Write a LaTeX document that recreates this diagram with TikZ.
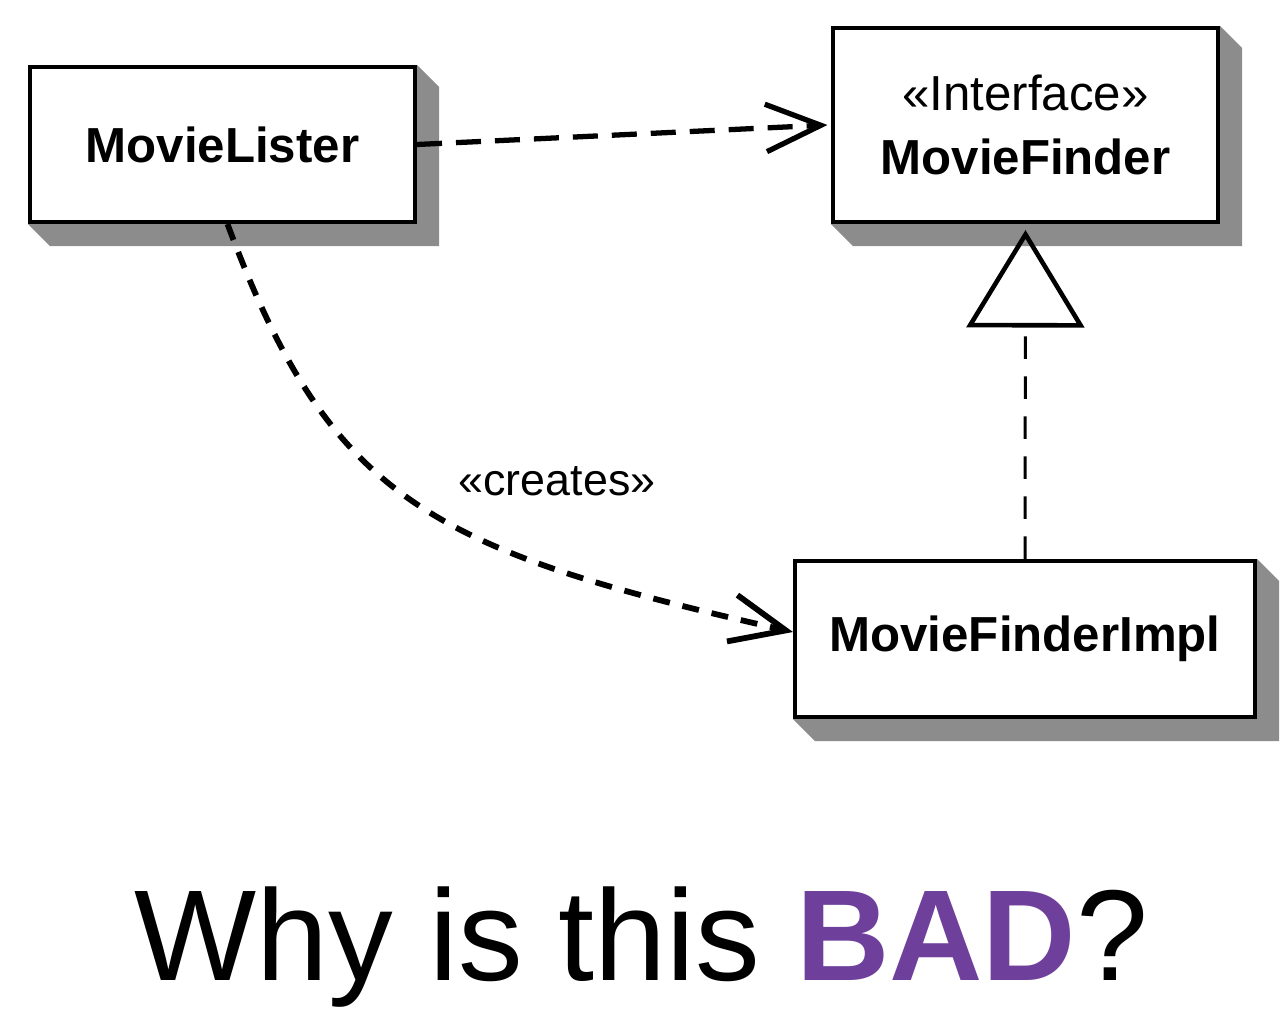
\documentclass[tikz,border=0pt]{standalone}
\usepackage{fontspec}
\setmainfont{Liberation Sans}
\usetikzlibrary{arrows.meta,positioning}
\definecolor{badpurple}{RGB}{110,64,155}
\definecolor{shadowgray}{RGB}{140,140,140}

\begin{document}
\begin{tikzpicture}[
    classbox/.style={draw,fill=white,line width=2.3pt,inner sep=0pt,align=center,font=\fontsize{28}{36.4}\selectfont},
    boxshadow/.style={fill=shadowgray},
    uses/.style={line width=3pt,dash pattern=on 0.5cm off 0.28cm,-{Straight Barb[length=1.1cm,width=0.95cm]}},
    creates/.style={line width=3.3pt,dash pattern=on 0.34cm off 0.26cm,-{Straight Barb[length=1.1cm,width=0.95cm]}},
    realizes/.style={line width=1.7pt,dash pattern=on 0.45cm off 0.35cm,-{Triangle[open,length=1.95cm,width=2.35cm,line width=2.6pt]}}]
    \useasboundingbox (0,0) rectangle (25.64,20.48);

    \node[classbox,minimum width=7.7cm,minimum height=3.1cm] (lister) at (4.45,17.59) {\bfseries MovieLister};
    \node[classbox,minimum width=7.7cm,minimum height=3.88cm] (finder) at (20.51,17.98) {«Interface»\\\bfseries MovieFinder};
    \node[classbox,minimum width=9.2cm,minimum height=3.12cm] (impl) at (20.5,7.7) {\bfseries MovieFinderImpl};

    % shadows
    \foreach \n in {lister,finder,impl}
    \fill[boxshadow] (\n.north east) -- ++(.44,-.44) |- ([shift={(.44,-.44)}]\n.south west) -- (\n.south west) -- (\n.south east) -- cycle;

    % label
    \node (createslabel) at (11.14,10.86) {\fontsize{25.5}{30}\selectfont «creates»};

    \draw[uses] (lister.east) -- ([xshift=-2pt]finder.west);
    \draw[creates] ([xshift=0.1cm]lister.south) .. controls (6.6,10.48) and (8.6,9.48) .. ([yshift=0.14cm]impl.west);
    \draw[realizes] (impl.north) -- ([yshift=-0.12cm]finder.south);

    \node[anchor=base] (question) at (12.83,0.88) {\fontsize{73.6}{80}\selectfont Why is this \textcolor{badpurple}{\bfseries BAD}?};
\end{tikzpicture}
\end{document}
